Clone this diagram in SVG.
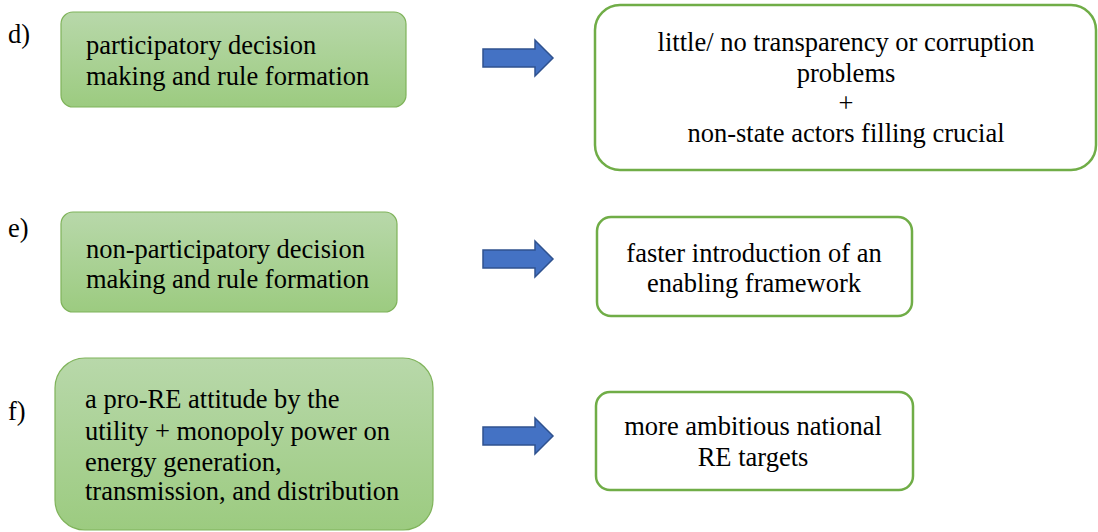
<svg xmlns="http://www.w3.org/2000/svg" width="1098" height="532" viewBox="0 0 1098 532">
  <defs>
    <linearGradient id="greenFill" x1="0" y1="0" x2="0" y2="1">
      <stop offset="0" stop-color="#b8d8aa"/>
      <stop offset="1" stop-color="#9ccb80"/>
    </linearGradient>
  </defs>

  <!-- row labels -->
  <g id="labels" font-family="'Liberation Serif', serif" font-size="26.5">
    <text x="8" y="43">d)</text>
    <text x="8" y="237">e)</text>
    <text x="8" y="420">f)</text>
  </g>

  <!-- row d -->
  <g id="cause-d" font-family="'Liberation Serif', serif" font-size="26.5">
    <rect x="61" y="12" width="345" height="95" rx="12" fill="url(#greenFill)" stroke="#7fb35a" stroke-width="1.2"/>
    <text x="86" y="54">participatory decision</text>
    <text x="86" y="85">making and rule formation</text>
  </g>
  <g id="effect-d" font-family="'Liberation Serif', serif" font-size="26.5" text-anchor="middle">
    <rect x="595" y="5" width="501" height="165" rx="25" fill="#fff" stroke="#70ad47" stroke-width="2.5"/>
    <text x="846" y="51">little/ no transparency or corruption</text>
    <text x="846" y="82">problems</text>
    <text x="846" y="112">+</text>
    <text x="846" y="142">non-state actors filling crucial</text>
  </g>

  <!-- row e -->
  <g id="cause-e" font-family="'Liberation Serif', serif" font-size="26.5">
    <rect x="61" y="212" width="336" height="100" rx="12" fill="url(#greenFill)" stroke="#7fb35a" stroke-width="1.2"/>
    <text x="86" y="258">non-participatory decision</text>
    <text x="86" y="288">making and rule formation</text>
  </g>
  <g id="effect-e" font-family="'Liberation Serif', serif" font-size="26.5" text-anchor="middle">
    <rect x="597" y="217" width="315" height="99" rx="14" fill="#fff" stroke="#70ad47" stroke-width="2.5"/>
    <text x="754" y="262">faster introduction of an</text>
    <text x="754" y="292">enabling framework</text>
  </g>

  <!-- row f -->
  <g id="cause-f" font-family="'Liberation Serif', serif" font-size="26.5">
    <rect x="55" y="358" width="378" height="172" rx="30" fill="url(#greenFill)" stroke="#7fb35a" stroke-width="1.2"/>
    <text x="85" y="408">a pro-RE attitude by the</text>
    <text x="85" y="440">utility + monopoly power on</text>
    <text x="85" y="471">energy generation,</text>
    <text x="85" y="500">transmission, and distribution</text>
  </g>
  <g id="effect-f" font-family="'Liberation Serif', serif" font-size="26.5" text-anchor="middle">
    <rect x="596" y="392" width="317" height="98" rx="14" fill="#fff" stroke="#70ad47" stroke-width="2.5"/>
    <text x="753" y="435">more ambitious national</text>
    <text x="753" y="466">RE targets</text>
  </g>

  <!-- block arrows linking causes to effects -->
  <g id="connectors" fill="#4472c4" stroke="#2f528f" stroke-width="1.5">
    <path d="M483 49 H535 V40 L553 58 L535 76 V67 H483 Z"/>
    <path d="M483 250 H535 V241 L553 259 L535 277 V268 H483 Z"/>
    <path d="M483 427 H535 V418 L553 436 L535 454 V445 H483 Z"/>
  </g>
</svg>
